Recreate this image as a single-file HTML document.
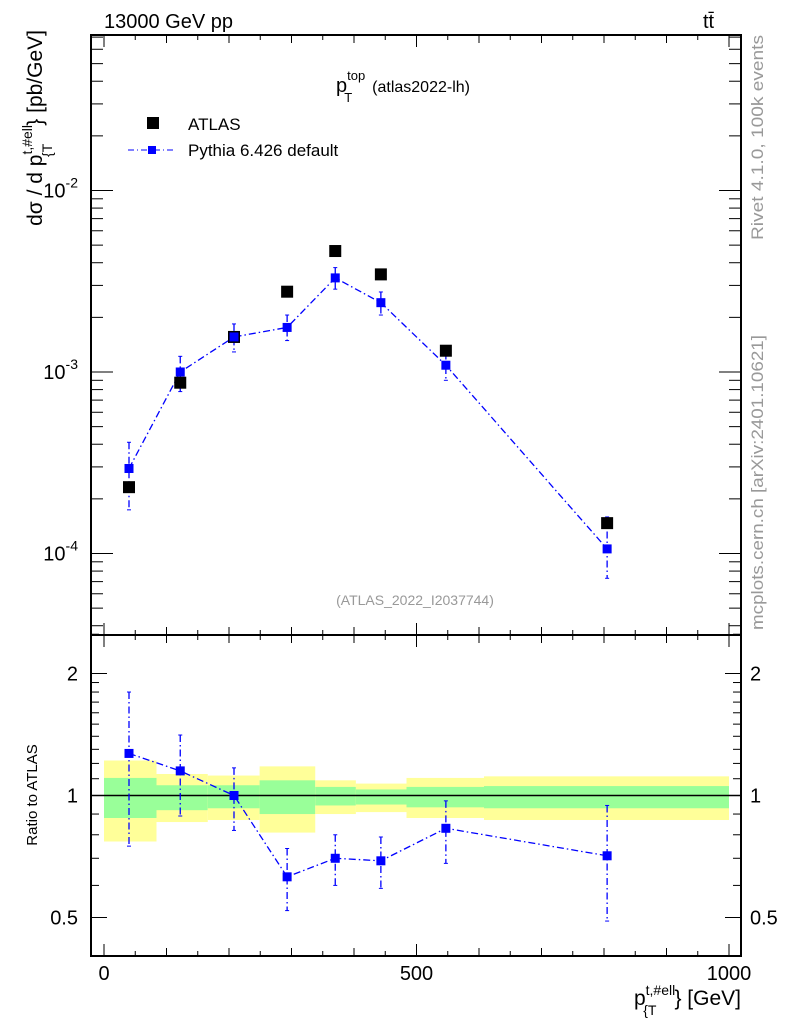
<!DOCTYPE html>
<html><head><meta charset="utf-8"><style>
body{margin:0;background:#fff;}
svg text{font-family:"Liberation Sans",sans-serif;}
</style></head><body>
<svg id="c" width="786" height="1024" xmlns="http://www.w3.org/2000/svg">
<text x="104" y="28" font-size="20">13000 GeV pp</text>
<text x="703" y="28" font-size="20">tt̄</text>
<text x="336" y="92" font-size="20">p<tspan dy="-12" font-size="13">top</tspan><tspan dx="-21" dy="22" font-size="13">T</tspan><tspan dx="20" dy="-10" font-size="16">(atlas2022-lh)</tspan></text>
<rect x="147" y="117" width="12" height="12" fill="#000"/>
<text x="188" y="130" font-size="17">ATLAS</text>
<line x1="128" y1="150" x2="175" y2="150" stroke="#00f" stroke-dasharray="6,3,1,3"/>
<rect x="148" y="146" width="8" height="8" fill="#00f"/>
<text x="188" y="156" font-size="17">Pythia 6.426 default</text>
<text x="415" y="605" font-size="14" fill="#999" text-anchor="middle">(ATLAS_2022_I2037744)</text>
<text transform="translate(763,240) rotate(-90)" font-size="17" fill="#999" textLength="205" lengthAdjust="spacingAndGlyphs">Rivet 4.1.0,  100k events</text>
<text transform="translate(763,630) rotate(-90)" font-size="17" fill="#999" textLength="295" lengthAdjust="spacingAndGlyphs">mcplots.cern.ch [arXiv:2401.10621]</text>
<text transform="translate(42,30) rotate(-90)" font-size="21" text-anchor="end">dσ / d p<tspan dy="-10" font-size="14">t,#ell</tspan><tspan dx="-32" dy="20" font-size="14">{T</tspan><tspan dx="18" dy="-10">} [pb/GeV]</tspan></text>
<text transform="translate(37,795) rotate(-90)" font-size="15" text-anchor="middle">Ratio to ATLAS</text>
<text x="741" y="1005" font-size="21" text-anchor="end">p<tspan dy="-10" font-size="14">t,#ell</tspan><tspan dx="-32" dy="20" font-size="14">{T</tspan><tspan dx="18" dy="-10">} [GeV]</tspan></text>
<g id="g"></g>
</svg>
<script>
const xCenters=[40,122,208,293,370,443,547,805];
const dataVals=[2.32e-4,8.73e-4,1.56e-3,2.77e-3,4.64e-3,3.45e-3,1.31e-3,1.47e-4];
const mcVals=[2.94e-4,1.0e-3,1.56e-3,1.76e-3,3.3e-3,2.41e-3,1.09e-3,1.06e-4];
const mcHi=[4.1e-4,1.22e-3,1.84e-3,2.06e-3,3.76e-3,2.76e-3,1.28e-3,1.59e-4];
const mcLo=[1.74e-4,7.8e-4,1.29e-3,1.49e-3,2.86e-3,2.06e-3,9.0e-4,7.3e-5];
const binEdges=[0,84,166,249,338,403,484,608,1000];
const yelHi=[1.22,1.13,1.12,1.18,1.09,1.07,1.105,1.115];
const yelLo=[0.77,0.86,0.87,0.81,0.90,0.91,0.88,0.87];
const grnHi=[1.105,1.06,1.06,1.09,1.05,1.035,1.05,1.055];
const grnLo=[0.88,0.92,0.93,0.90,0.945,0.95,0.935,0.93];
const ratioVals=[1.27,1.15,1.0,0.63,0.70,0.69,0.83,0.71];
const ratioHi=[1.8,1.41,1.17,0.74,0.80,0.79,0.97,0.945];
const ratioLo=[0.75,0.89,0.82,0.52,0.60,0.59,0.68,0.49];
const xTickLabels=[0,500,1000];
const yTickExp=[-2,-3,-4];
const rTickLabels=[0.5,1,2];

const NS="http://www.w3.org/2000/svg",G=document.getElementById('g');
function X(v){return 104+v*0.625;}
function Y(v){return 372-(Math.log10(v)+3)*181.5;}
function R(v){return 795.5-Math.log2(v)*122;}
function el(t,a,p){const e=document.createElementNS(NS,t);for(const k in a)e.setAttribute(k,a[k]);(p||G).appendChild(e);return e;}
const L=91,Rt=741,T=35,M=635,B=956;
for(let i=0;i<8;i++){
 let r=el('rect',{x:X(binEdges[i]),y:R(yelHi[i]),width:X(binEdges[i+1])-X(binEdges[i]),height:R(yelLo[i])-R(yelHi[i]),fill:'#ffff99'});
 
 
 let g2=el('rect',{x:X(binEdges[i]),y:R(grnHi[i]),width:X(binEdges[i+1])-X(binEdges[i]),height:R(grnLo[i])-R(grnHi[i]),fill:'#99ff99'});
 
 
}
el('line',{x1:L,x2:Rt,y1:R(1),y2:R(1),stroke:'#000','stroke-width':1.5});
let f1=el('rect',{x:L,y:T,width:Rt-L,height:M-T,fill:'none',stroke:'#000','stroke-width':2});


let f2=el('rect',{x:L,y:M,width:Rt-L,height:B-M,fill:'none',stroke:'#000','stroke-width':2});


for(let v=0;v<=1000;v+=50){
 const len=v%500===0?12:(v%100===0?8:5);
 [[T,1],[M,-1],[M,1],[B,-1]].forEach(([y,d])=>el('line',{x1:X(v),x2:X(v),y1:y,y2:y+d*len,stroke:'#000'}));
}
xTickLabels.forEach(v=>{let t=el('text',{x:X(v),y:980,'font-size':20,'text-anchor':'middle'});t.textContent=v;
 
 });
for(let e=-5;e<=-1;e++)for(let m=1;m<10;m++){
 const v=m*Math.pow(10,e),y=Y(v);if(y<T||y>M)continue;
 const len=m===1?22:12;
 el('line',{x1:L,x2:L+len,y1:y,y2:y,stroke:'#000'});el('line',{x1:Rt,x2:Rt-len,y1:y,y2:y,stroke:'#000'});
}
yTickExp.forEach(e=>{let t=el('text',{x:78,y:Y(Math.pow(10,e))+7,'font-size':20,'text-anchor':'end'});
 t.innerHTML='10<tspan dy="-10" font-size="14">'+e+'</tspan>';
 
 });
[0.5,0.6,0.7,0.8,0.9,1,1.1,1.2,1.3,1.4,1.5,1.6,1.7,1.8,1.9,2,2.5].forEach(v=>{
 const y=R(v),len=(v===0.5||v===1||v===2)?16:8;
 el('line',{x1:L,x2:L+len,y1:y,y2:y,stroke:'#000'});el('line',{x1:Rt,x2:Rt-len,y1:y,y2:y,stroke:'#000'});
});
rTickLabels.forEach(v=>{
 let t=el('text',{x:78,y:R(v)+7,'font-size':20,'text-anchor':'end'});t.textContent=v;
 
 
 let t2=el('text',{x:750,y:R(v)+7,'font-size':20});t2.textContent=v;
 
 
});
const dash='7,3,1.5,3';
let pts=xCenters.map((x,i)=>X(x)+','+Y(mcVals[i])).join(' ');
let pl=el('polyline',{points:pts,fill:'none',stroke:'#00f','stroke-width':1.3,'stroke-dasharray':dash});


xCenters.forEach((x,i)=>{
 const cx=X(x);
 el('line',{x1:cx,x2:cx,y1:Y(mcHi[i]),y2:Y(mcLo[i]),stroke:'#00f','stroke-width':1.3,'stroke-dasharray':dash});
 el('line',{x1:cx-2,x2:cx+2,y1:Y(mcHi[i]),y2:Y(mcHi[i]),stroke:'#00f'});
 el('line',{x1:cx-2,x2:cx+2,y1:Y(mcLo[i]),y2:Y(mcLo[i]),stroke:'#00f'});
 let d=el('rect',{x:cx-6,y:Y(dataVals[i])-6,width:12,height:12,fill:'#000'});
 
 
 let m=el('rect',{x:cx-4.5,y:Y(mcVals[i])-4.5,width:9,height:9,fill:'#00f'});
 
 
});
pts=xCenters.map((x,i)=>X(x)+','+R(ratioVals[i])).join(' ');
pl=el('polyline',{points:pts,fill:'none',stroke:'#00f','stroke-width':1.3,'stroke-dasharray':dash});


xCenters.forEach((x,i)=>{
 const cx=X(x);
 el('line',{x1:cx,x2:cx,y1:R(ratioHi[i]),y2:R(ratioLo[i]),stroke:'#00f','stroke-width':1.3,'stroke-dasharray':dash});
 el('line',{x1:cx-2,x2:cx+2,y1:R(ratioHi[i]),y2:R(ratioHi[i]),stroke:'#00f'});
 el('line',{x1:cx-2,x2:cx+2,y1:R(ratioLo[i]),y2:R(ratioLo[i]),stroke:'#00f'});
 let m=el('rect',{x:cx-4.5,y:R(ratioVals[i])-4.5,width:9,height:9,fill:'#00f'});
 
 
});
</script>
</body></html>
